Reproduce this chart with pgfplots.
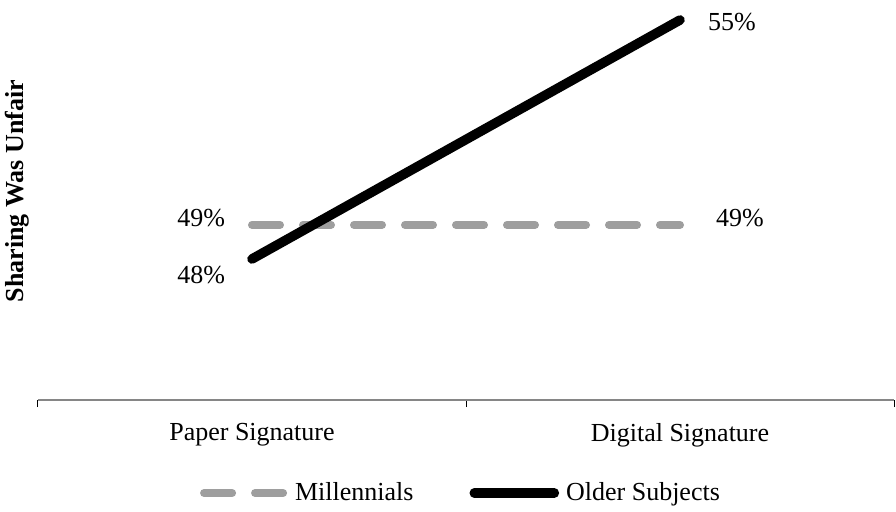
\documentclass[border=0pt]{standalone}
\usepackage{fontspec}
\setmainfont{Liberation Serif}
\usepackage{pgfplots}
\pgfplotsset{compat=1.18}

\definecolor{millgray}{RGB}{158,158,158}
\definecolor{axisgray}{RGB}{134,134,134}

\begin{document}
\fontsize{13}{15}\selectfont
\begin{tikzpicture}
\begin{axis}[
    at={(0,0)}, anchor=south west,
    scale only axis,
    width=428pt, height=200pt,
    xmin=0, xmax=2,
    ymin=43.87, ymax=55.585,
    clip=false,
    axis x line=bottom,
    axis y line=none,
    x axis line style={-, draw=axisgray, line width=0.6pt},
    ytick=\empty,
    xtick={0.5,1.5},
    xticklabels={Paper Signature, Digital Signature},
    major tick length=0pt,
    minor xtick={0,1,2},
    minor tick length=3.5pt,
    tick align=outside,
    every minor tick/.style={draw=black, line width=0.5pt},
    xticklabel style={font=\fontsize{13}{15}\selectfont, yshift=-7.2pt},
    legend columns=2,
    legend style={draw=none, at={(axis description cs:0.5,0)}, anchor=center,
        yshift=-46.5pt, xshift=-2pt, font=\fontsize{13}{15}\selectfont,
        /tikz/every even column/.append style={column sep=26pt},
        /tikz/every odd column/.append style={column sep=1.5pt}},
    legend image code/.code={\draw[#1] (0pt,0pt) -- (40pt,0pt);},
]
\addplot[millgray, line width=4pt, line cap=round, dash pattern=on 14pt off 11.5pt]
    coordinates {(0.5,49) (1.5,49)};
\addlegendentry{Millennials}
\addplot[black, line width=4.8pt, line cap=round]
    coordinates {(0.5,48) (1.5,55)};
\addlegendentry{Older Subjects}

\node[anchor=east] at (axis cs:0.5,49) [xshift=-9pt, yshift=3.5pt] {49\%};
\node[anchor=east] at (axis cs:0.5,48) [xshift=-9pt, yshift=-8pt] {48\%};
\node[anchor=west] at (axis cs:1.5,55) [xshift=9.5pt, yshift=-1pt] {55\%};
\node[anchor=west] at (axis cs:1.5,49) [xshift=13.5pt, yshift=3.5pt] {49\%};
\node[rotate=90, anchor=center, font=\bfseries] at (axis description cs:-0.0245,0.522) {Sharing Was Unfair};
\end{axis}
\pgfresetboundingbox
\path[use as bounding box] (-19pt,-55.5pt) rectangle (429pt,200pt);
\end{tikzpicture}
\end{document}
